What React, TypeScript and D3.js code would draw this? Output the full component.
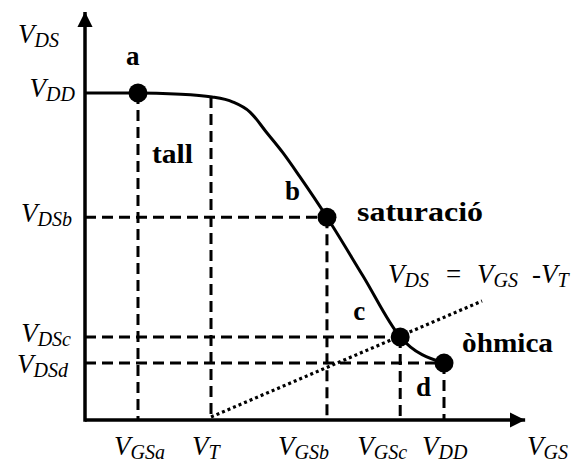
import React from "react";
import * as d3 from "d3";

// Gate-source voltage marks (arbitrary units, VDD = 5)
const vgsNames = ["GSa", "T", "GSb", "GSc", "DD"];
const vgsValues = [0.738, 1.755, 3.37, 4.39, 5];

// Drain-source voltage marks
const vdsNames = ["DD", "DSb", "DSc", "DSd"];
const vdsValues = [5, 3.1, 1.27, 0.87];

// Transfer characteristic VDS(VGS)
const curveVgs = [0, 0.738, 1.253, 1.769, 2.061, 2.298, 2.535, 2.758, 2.994, 3.37, 3.872, 4.39, 5];
const curveVds = [5, 5, 4.985, 4.939, 4.862, 4.709, 4.388, 4.083, 3.716, 3.1, 2.202, 1.27, 0.87];

// Operating points a..d
const pointNames = ["a", "b", "c", "d"];
const pointVgs = [0.738, 3.37, 4.39, 5];
const pointVds = [5, 3.1, 1.27, 0.87];

// Boundary between saturation and ohmic region
const boundaryVgs = [1.755, 5.53];

// Region names
const regionNames = ["tall", "saturació", "òhmica"];

const W = 579;
const H = 463;
const FONT = "Liberation Serif, DejaVu Serif, Times New Roman, serif";

export default function App() {
  const x = d3.scaleLinear().domain([0, 5]).range([85, 444]);
  const y = d3.scaleLinear().domain([0, 5]).range([420, 93]);
  const xMax = 6.13;
  const yMax = 6.24;

  const curvePts: [number, number][] = curveVgs.map((v, i) => [v, curveVds[i]]);
  const line = d3
    .line<[number, number]>()
    .x((d) => x(d[0]))
    .y((d) => y(d[1]))
    .curve(d3.curveMonotoneX);

  // boundary passes through (VT, 0) and point c
  const vT = vgsValues[1];
  const slope = pointVds[2] / (pointVgs[2] - vT);
  const bx0 = boundaryVgs[0];
  const bx1 = boundaryVgs[1];

  const dash = "11,6";
  const sw = 3;

  // guide lines
  const guides: { x1: number; y1: number; x2: number; y2: number }[] = [];
  pointVgs.forEach((v, i) => {
    guides.push({ x1: x(v), y1: y(pointVds[i]), x2: x(v), y2: y(0) });
  });
  const vtIdx = curveVgs.indexOf(1.769);
  guides.push({ x1: x(vT), y1: y(curveVds[vtIdx]), x2: x(vT), y2: y(0) });
  [1, 2, 3].forEach((i) => {
    guides.push({ x1: x(0), y1: y(pointVds[i]), x2: x(pointVgs[i]), y2: y(pointVds[i]) });
  });

  const xLabelStart = [-24, -19, -49, -43, -22];
  const yLabelEnd = [75, 72, 71, 68];
  const yLabelDy = [4, 5, 5, 10];

  const mainSize = 27;
  const subSize = 20;
  const boldSize = 27;

  const italic = { fontFamily: FONT, fontStyle: "italic" as const, fontSize: mainSize };

  const Sym = ({ main, sub, xx, yy, anchor = "start" }: { main: string; sub: string; xx: number; yy: number; anchor?: string }) => (
    <text x={xx} y={yy} style={italic} textAnchor={anchor} fill="#000">
      <tspan>{main}</tspan>
      <tspan style={{ fontSize: subSize }} dy={4}>{sub}</tspan>
    </text>
  );

  const labelPos = [
    { dx: -12, dy: -28 },
    { dx: -42, dy: -17 },
    { dx: -47, dy: -17 },
    { dx: -28, dy: 33 },
  ];

  // region label placement: [x, baseline, width]
  const regionLayout = [
    [152, 163, 41],
    [357, 221, 126],
    [462, 352, 91],
  ];

  const boldStyle = { fontFamily: FONT, fontWeight: "bold" as const, fontSize: boldSize };
  const eqY = 283;

  return (
    <svg width={W} height={H} style={{ position: "absolute", left: 0, top: 0 }} xmlns="http://www.w3.org/2000/svg">
      <rect width={W} height={H} fill="#fff" />
      <defs>
        <marker id="arr" viewBox="0 0 10 10" refX="10" refY="5" markerWidth="4.4" markerHeight="4.4" orient="auto" markerUnits="strokeWidth">
          <path d="M0,0 L10,5 L0,10 Z" fill="#000" />
        </marker>
      </defs>

      {guides.map((g, i) => (
        <line key={i} {...g} stroke="#000" strokeWidth={sw} strokeDasharray={dash} />
      ))}

      <line
        x1={x(bx0)}
        y1={y(0) - 3}
        x2={x(bx1)}
        y2={y(slope * (bx1 - vT))}
        stroke="#000"
        strokeWidth={3.2}
        strokeDasharray="3,3"
      />

      <line x1={x(0)} y1={y(0)} x2={x(xMax)} y2={y(0)} stroke="#000" strokeWidth={3.5} markerEnd="url(#arr)" />
      <line x1={x(0)} y1={y(0) + 1.75} x2={x(0)} y2={y(yMax)} stroke="#000" strokeWidth={3.5} markerEnd="url(#arr)" />

      <path d={line(curvePts) ?? ""} fill="none" stroke="#000" strokeWidth={3} />

      {pointNames.map((n, i) => (
        <circle key={n} cx={x(pointVgs[i])} cy={y(pointVds[i])} r={9.5} fill="#000" />
      ))}
      {pointNames.map((n, i) => (
        <text key={"l" + n} x={x(pointVgs[i]) + labelPos[i].dx} y={y(pointVds[i]) + labelPos[i].dy} style={boldStyle} fill="#000">
          {n}
        </text>
      ))}

      {regionNames.map((n, i) => (
        <text
          key={n}
          x={regionLayout[i][0]}
          y={regionLayout[i][1]}
          textLength={regionLayout[i][2]}
          lengthAdjust="spacingAndGlyphs"
          style={boldStyle}
          fill="#000"
        >
          {n}
        </text>
      ))}

      {/* VDS = VGS - VT */}
      <text x={388} y={eqY} style={italic} fill="#000">
        <tspan>V</tspan>
        <tspan style={{ fontSize: subSize }} dy={4}>DS</tspan>
      </text>
      <text x={446} y={eqY} style={{ fontFamily: FONT, fontSize: mainSize }} fill="#000">=</text>
      <text x={477} y={eqY} style={italic} fill="#000">
        <tspan>V</tspan>
        <tspan style={{ fontSize: subSize }} dy={4}>GS</tspan>
      </text>
      <text x={532} y={eqY} style={italic} fill="#000">
        <tspan>-V</tspan>
        <tspan style={{ fontSize: subSize }} dy={4}>T</tspan>
      </text>

      <Sym main="V" sub="DS" xx={18} yy={43} />
      <Sym main="V" sub="GS" xx={527} yy={455} />

      {vgsNames.map((n, i) => (
        <Sym key={"x" + n} main="V" sub={n} xx={x(vgsValues[i]) + xLabelStart[i]} yy={455} />
      ))}

      {vdsNames.map((n, i) => (
        <Sym key={"y" + n} main="V" sub={n} xx={yLabelEnd[i]} yy={y(vdsValues[i]) + yLabelDy[i]} anchor="end" />
      ))}
    </svg>
  );
}
